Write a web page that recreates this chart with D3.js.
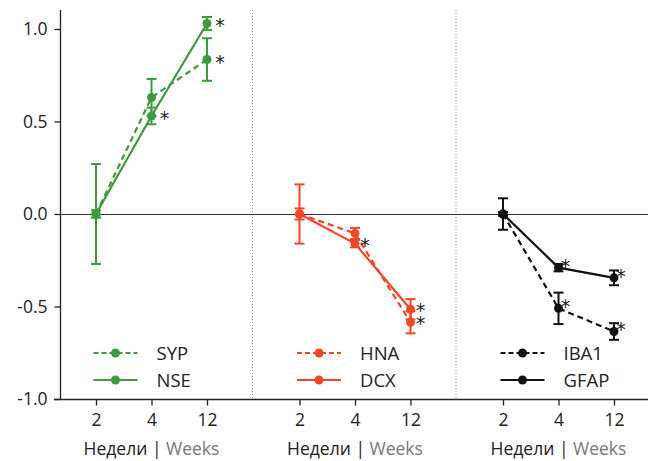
<!DOCTYPE html>
<html>
<head>
<meta charset="utf-8">
<script src="https://cdn.jsdelivr.net/npm/d3@7"></script>
<style>
  body { margin: 0; background: #fff; }
  svg { display: block; font-family: "Open Sans", "Noto Sans", sans-serif; }
</style>
</head>
<body>
<script>
const weeks = ["2", "4", "12"]
const panelNames = ["neuro", "tumor", "glia"]
const panelColors = ["#3d9a3d", "#f2462a", "#111111"]
const dashedNames = ["SYP", "HNA", "IBA1"]
const solidNames = ["NSE", "DCX", "GFAP"]

// dashed series per panel
const sypVals = [0, 0.63, 0.835]
const sypErr = [0.27, 0.1, 0.115]
const sypSig = [false, false, true]
const hnaVals = [0, -0.105, -0.585]
const hnaErr = [0.03, 0.03, 0.06]
const hnaSig = [false, false, true]
const iba1Vals = [0, -0.51, -0.635]
const iba1Err = [0.01, 0.085, 0.045]
const iba1Sig = [false, true, true]

// solid series per panel
const nseVals = [0, 0.53, 1.03]
const nseErr = [0.02, 0.045, 0.035]
const nseSig = [false, true, true]
const dcxVals = [0, -0.16, -0.515]
const dcxErr = [0.16, 0.02, 0.055]
const dcxSig = [false, true, true]
const gfapVals = [0, -0.29, -0.345]
const gfapErr = [0.085, 0.02, 0.04]
const gfapSig = [false, true, true]

const yTicks = [-1, -0.5, 0, 0.5, 1]

const w = 648
const h = 461

const series = [
    {panel: 0, name: "SYP", dashed: true, vals: sypVals, err: sypErr, sig: sypSig},
    {panel: 0, name: "NSE", dashed: false, vals: nseVals, err: nseErr, sig: nseSig},
    {panel: 1, name: "HNA", dashed: true, vals: hnaVals, err: hnaErr, sig: hnaSig},
    {panel: 1, name: "DCX", dashed: false, vals: dcxVals, err: dcxErr, sig: dcxSig},
    {panel: 2, name: "IBA1", dashed: true, vals: iba1Vals, err: iba1Err, sig: iba1Sig},
    {panel: 2, name: "GFAP", dashed: false, vals: gfapVals, err: gfapErr, sig: gfapSig}
]

// star offsets per panel (style only)
const starDx = [13, 10, 7]
const starDy = [9, 8, 5]

const outer = d3.scaleBand().domain(d3.range(panelNames.length)).range([49.5, 660])
const inner = d3.scalePoint().domain(weeks).range([46.5, 157.5])
const y = d3.scaleLinear().domain([-1, 1]).range([399, 29])

const svg = d3.select("body").append("svg")
              .attr("width", w)
              .attr("height", h)

// separators
svg.selectAll("line.sep")
   .data([1, 2])
   .enter()
   .append("line")
   .attr("class", "sep")
   .attr("x1", d => outer(d) - 0.5)
   .attr("x2", d => outer(d) - 0.5)
   .attr("y1", 10)
   .attr("y2", 399)
   .attr("stroke", "#999")
   .attr("stroke-width", 1)
   .attr("stroke-dasharray", "1,2")

// zero line
svg.append("line")
   .attr("x1", 60).attr("x2", w)
   .attr("y1", Math.round(y(0)) + 0.5).attr("y2", Math.round(y(0)) + 0.5)
   .attr("stroke", "#333")
   .attr("stroke-width", 1.2)

// y axis
const yAxis = d3.axisLeft(y)
                .tickValues(yTicks)
                .tickFormat(d => d.toFixed(1))
                .tickSize(6)
                .tickPadding(7)
const gy = svg.append("g")
              .attr("transform", "translate(60.5, 0)")
              .call(yAxis)
gy.select(".domain").remove()
gy.selectAll("line").attr("stroke", "#222").attr("stroke-width", 1.3)
gy.selectAll("text").attr("font-size", 17.5).attr("fill", "#222").attr("font-family", "Open Sans")
gy.append("line").attr("x1", 0).attr("x2", 0).attr("y1", 10).attr("y2", 399).attr("stroke", "#222").attr("stroke-width", 1.3)

// x axis line
svg.append("line")
   .attr("x1", 54).attr("x2", w)
   .attr("y1", 399.5).attr("y2", 399.5)
   .attr("stroke", "#222")
   .attr("stroke-width", 1.3)

panelNames.forEach((p, i) => {
    const g = svg.append("g").attr("transform", "translate(" + outer(i) + ",0)")
    const xAxis = d3.axisBottom(inner).tickSize(6).tickPadding(8)
    const gx = g.append("g").attr("transform", "translate(0,399.5)").call(xAxis)
    gx.select(".domain").remove()
    gx.selectAll("line").attr("stroke", "#222").attr("stroke-width", 1.3)
    gx.selectAll("text").attr("font-size", 17.5).attr("fill", "#222").attr("font-family", "Open Sans")

    const lab = g.append("text")
                 .attr("x", (inner("2") + inner("12")) / 2)
                 .attr("y", 455)
                 .attr("text-anchor", "middle")
                 .attr("font-size", 17.5)
    lab.append("tspan").attr("fill", "#222").text("Недели | ")
    lab.append("tspan").attr("fill", "#777").text("Weeks")
})

const line = d3.line()
               .x((d, i) => inner(weeks[i]))
               .y(d => y(d))

series.forEach(s => {
    const color = panelColors[s.panel]
    const g = svg.append("g").attr("transform", "translate(" + outer(s.panel) + ",0)")

    // error bars
    s.vals.forEach((v, i) => {
        const x = inner(weeks[i])
        const e = s.err[i]
        g.append("line").attr("x1", x).attr("x2", x)
         .attr("y1", y(v + e)).attr("y2", y(v - e))
         .attr("stroke", color).attr("stroke-width", 2)
        ;[v + e, v - e].forEach(c => {
            g.append("line").attr("x1", x - 5).attr("x2", x + 5)
             .attr("y1", y(c)).attr("y2", y(c))
             .attr("stroke", color).attr("stroke-width", 2)
        })
    })

    g.append("path")
     .datum(s.vals)
     .attr("d", line)
     .attr("fill", "none")
     .attr("stroke", color)
     .attr("stroke-width", 2.2)
     .attr("stroke-dasharray", s.dashed ? "6,4" : null)

    g.selectAll("circle.pt")
     .data(s.vals)
     .enter()
     .append("circle")
     .attr("class", "pt")
     .attr("cx", (d, i) => inner(weeks[i]))
     .attr("cy", d => y(d))
     .attr("r", 4.5)
     .attr("fill", color)

    s.vals.forEach((v, i) => {
        if (s.sig[i]) {
            g.append("text")
             .attr("x", inner(weeks[i]) + starDx[s.panel])
             .attr("y", y(v) + starDy[s.panel])
             .attr("text-anchor", "middle")
             .attr("font-size", 19)
             .attr("font-family", "DejaVu Sans")
             .attr("fill", "#222")
             .text("*")
        }
    })
})

// legends
panelNames.forEach((p, i) => {
    const color = panelColors[i]
    const g = svg.append("g").attr("transform", "translate(" + outer(i) + ",0)")
    const rows = [{name: dashedNames[i], dashed: true, y: 353}, {name: solidNames[i], dashed: false, y: 380}]
    rows.forEach(r => {
        g.append("line")
         .attr("x1", 44).attr("x2", 88)
         .attr("y1", r.y).attr("y2", r.y)
         .attr("stroke", color)
         .attr("stroke-width", 2.2)
         .attr("stroke-dasharray", r.dashed ? "5,3" : null)
        g.append("circle").attr("cx", 66).attr("cy", r.y).attr("r", 4.5).attr("fill", color)
        g.append("text")
         .attr("x", 107)
         .attr("y", r.y + 6.5)
         .attr("font-size", 18.5)
         .attr("fill", "#222")
         .text(r.name)
    })
})
</script>
</body>
</html>
